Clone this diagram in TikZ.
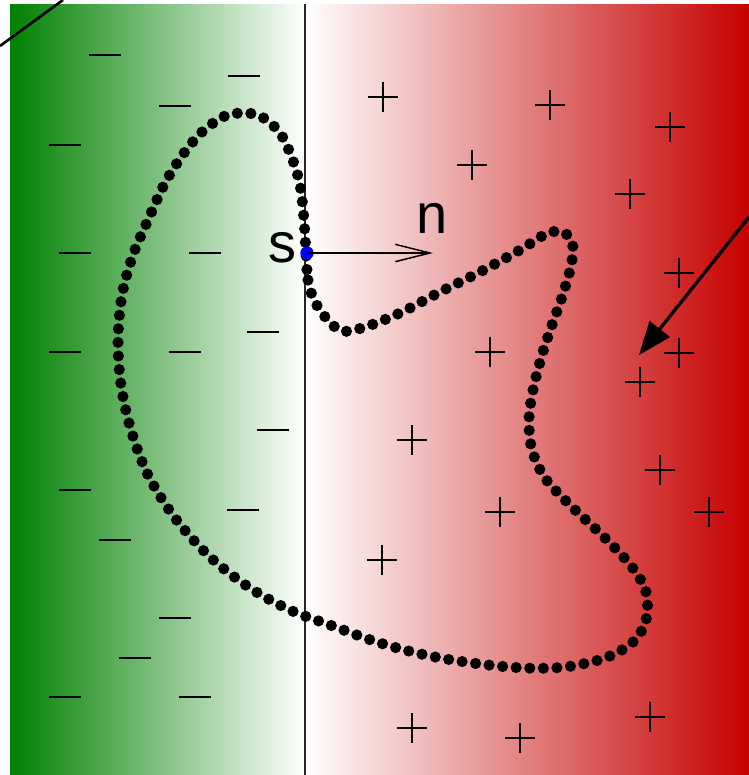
\documentclass[tikz,border=0pt]{standalone}
\usepackage{fontspec}
\setmainfont{Liberation Sans}
\usetikzlibrary{arrows.meta}
\definecolor{gdark}{RGB}{0,128,0}
\definecolor{rdark}{RGB}{198,0,0}
\definecolor{sblue}{RGB}{0,0,255}
\tikzset{
  sign/.style={line width=2.2pt, black},
  negsign/.pic={\draw[sign] (-16,0) -- (16,0);},
  possign/.pic={\draw[sign] (-15,0) -- (15,0) (0,-15) -- (0,15);},
  dotcurve/.style={line width=8.4pt, line cap=round, dash pattern=on 0pt off 10.2pt},
  lbl/.style={font=\fontsize{42}{42}\selectfont, inner sep=0pt}
}
\begin{document}
\begin{tikzpicture}[x=0.75pt,y=-0.75pt]
\useasboundingbox (0,0) rectangle (749,775);
\shade[left color=gdark,right color=white] (10,4) rectangle (305,775);
\shade[left color=white,right color=rdark] (305,4) rectangle (749,775);
% interface line
\coordinate (vt) at (305,4);
\coordinate (vb) at (305,775);
\draw[line width=0.8pt, black!85] (vt) -- (vb);
% minus signs
\foreach \x/\y in {105/55,244/76,175/106,65/145,75/253,205/253,263/332,65/352,185/352,273/430,75/490,243/510,115/540,175/618,135/658,65/697,195/697}
  \pic at (\x,\y) {negsign};
% plus signs
\foreach \x/\y in {383/97,550/105,670/127,472/165,630/194,679/273,679/353,490/352,640/382,412/440,660/470,500/512,709/512,382/560,650/717,412/728,520/738}
  \pic at (\x,\y) {possign};
% dotted curve
\draw[dotcurve] plot[smooth cycle, tension=0.55] coordinates {
(306,253) (308,280) (314,300) (326,318) (342,331) (365,327) (400,313) (440,292) (480,272) (520,250) (548,233) (565,233) (573,247) (570,270) (562,297) (552,325) (542,355) (533,390) (529,420) (532,450) (545,478) (570,505) (605,538) (632,567) (646,592) (646,620) (633,642) (605,658) (565,667) (525,668) (480,664) (430,656) (380,643) (330,625) (290,610) (250,588) (210,557) (175,518) (148,475) (131,430) (121,385) (118,340) (122,295) (133,255) (148,220) (165,183) (184,153) (203,131) (225,116) (245,113) (262,117) (280,133) (292,158) (300,185) (304,220)};
% point s and normal n
\node[circle, fill=sblue, inner sep=0pt, minimum size=10pt] (s) at (307,253) {};
\node[lbl, anchor=base east] (slbl) at (297,262) {s};
\coordinate (nend) at (433,253);
\node[lbl, anchor=base] (nlbl) at (432,233) {n};
\draw[line width=1.1pt, -{Straight Barb[length=26pt, width=13pt, line width=1.1pt]}] (s.center) -- (nend);
% top-left line
\coordinate (tl1) at (0,46);
\coordinate (tl2) at (63,0);
\draw[line width=2pt] (tl1) -- (tl2);
% right arrow
\coordinate (ra1) at (749,217);
\coordinate (ra2) at (639,355);
\draw[line width=2.4pt, -{Triangle[length=25pt, width=19pt]}] (ra1) -- (ra2);
\end{tikzpicture}
\end{document}
